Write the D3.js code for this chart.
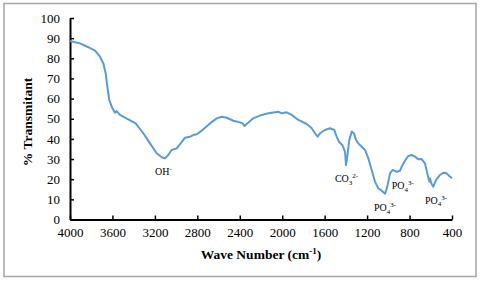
<!DOCTYPE html>
<html>
<head>
<meta charset="utf-8">
<script src="https://cdn.jsdelivr.net/npm/d3@7/dist/d3.min.js"></script>
<style>
  html, body { margin: 0; padding: 0; background: #fff; }
  svg { display: block; }
  text { font-family: "Liberation Serif", "Times New Roman", serif; fill: #000; }
</style>
</head>
<body>
<svg id="chart" width="480" height="281"></svg>
<script>
// ---- data ----
const waveNumbers = [4000, 3906, 3828, 3764, 3717, 3686, 3664, 3648, 3630, 3607, 3576, 3560, 3529, 3451, 3381, 3309, 3246, 3183, 3136, 3105, 3074, 3042, 2994, 2957, 2916, 2869, 2838, 2806, 2759, 2681, 2617, 2570, 2523, 2461, 2398, 2372, 2357, 2329, 2273, 2193, 2131, 2037, 2005, 1958, 1911, 1848, 1769, 1722, 1691, 1666, 1644, 1597, 1550, 1509, 1487, 1465, 1434, 1408, 1399, 1387, 1368, 1345, 1324, 1305, 1283, 1251, 1220, 1189, 1157, 1126, 1095, 1063, 1031, 1010, 984, 959, 921, 890, 874, 843, 812, 780, 749, 718, 686, 655, 633, 614, 607, 595, 576, 551, 513, 482, 450, 426, 400];
const transmittance = [88.6, 87.4, 85.5, 83.8, 80.8, 77.5, 72.6, 65.9, 59.3, 56.0, 53.0, 53.8, 51.9, 49.7, 47.7, 42.8, 37.8, 32.9, 30.9, 30.4, 32.0, 34.5, 35.3, 37.8, 40.6, 41.1, 41.9, 42.3, 44.1, 47.7, 50.2, 51.0, 50.5, 49.0, 48.2, 47.7, 46.4, 47.7, 50.2, 51.9, 52.7, 53.5, 52.7, 53.2, 51.9, 49.4, 47.4, 45.3, 42.8, 41.1, 42.8, 44.4, 45.3, 44.4, 41.1, 38.6, 37.0, 33.6, 27.0, 31.2, 39.5, 43.6, 42.8, 39.5, 37.8, 36.1, 34.5, 30.4, 24.6, 18.8, 15.5, 14.3, 12.8, 16.3, 22.9, 24.6, 23.7, 24.2, 26.2, 29.2, 31.5, 32.0, 31.2, 29.9, 30.0, 27.9, 22.9, 18.8, 20.4, 18.0, 16.3, 19.6, 22.1, 23.2, 22.9, 21.6, 20.5];
const xTicks = [4000, 3600, 3200, 2800, 2400, 2000, 1600, 1200, 800, 400];
const yTicks = [0, 10, 20, 30, 40, 50, 60, 70, 80, 90, 100];
// annotation labels: [main, subscript, superscript] anchored at (wave number, % T)
const annoText = [["OH", "", "-"], ["CO", "3", "2-"], ["PO", "4", "3-"], ["PO", "4", "3-"], ["PO", "4", "3-"]];
const annoWave = [3199, 1503, 1135, 968, 654];
const annoT = [22.1, 18.6, 4.2, 15.1, 7.7];

// ---- layout ----
const FONT = "'Liberation Serif', 'Times New Roman', serif";
const svg = d3.select("#chart");
const x = d3.scaleLinear().domain([4000, 400]).range([70, 452]);
const y = d3.scaleLinear().domain([0, 100]).range([219.5, 18]);

// outer frame
svg.append("rect")
  .attr("x", 4).attr("y", 3.5).attr("width", 472).attr("height", 273)
  .attr("fill", "none").attr("stroke", "#a6a6a6").attr("stroke-width", 1.5);

// axes
const xAxis = d3.axisBottom(x).tickValues(xTicks).tickSizeInner(-4).tickSizeOuter(0).tickPadding(8).tickFormat(d3.format("d"));
const yAxis = d3.axisLeft(y).tickValues(yTicks).tickSizeInner(-4).tickSizeOuter(0).tickPadding(10).tickFormat(d3.format("d"));

const gx = svg.append("g").attr("transform", `translate(0,${y(0)})`).call(xAxis);
const gy = svg.append("g").attr("transform", `translate(${x(4000)},0)`).call(yAxis);
[gx, gy].forEach(g => {
  g.attr("font-family", FONT);
  g.select(".domain").attr("stroke", "#000").attr("stroke-width", 2);
  g.selectAll(".tick line").attr("stroke", "#000").attr("stroke-width", 1.5);
  g.selectAll(".tick text").attr("font-family", FONT).attr("font-size", 13).attr("fill", "#000");
});

// line
const pts = waveNumbers.map((w, i) => [w, transmittance[i]]);
svg.append("path")
  .datum(pts)
  .attr("fill", "none")
  .attr("stroke", "#5b9bd5")
  .attr("stroke-width", 2)
  .attr("stroke-linejoin", "round")
  .attr("d", d3.line().x(d => x(d[0])).y(d => y(d[1])));

// annotations
annoText.forEach((parts, i) => {
  const t = svg.append("text")
    .attr("x", x(annoWave[i])).attr("y", y(annoT[i]))
    .attr("font-family", FONT)
    .attr("font-size", 10);
  t.append("tspan").text(parts[0]);
  let shift = 0;
  if (parts[1]) {
    t.append("tspan").attr("font-size", 7).attr("dy", 2.5).text(parts[1]);
    shift = 2.5;
  }
  if (parts[2]) {
    t.append("tspan").attr("font-size", 7).attr("dy", -shift - 4).text(parts[2]);
  }
});

// axis titles
const xt = svg.append("text")
  .attr("x", 261).attr("y", 259)
  .attr("text-anchor", "middle")
  .attr("font-family", FONT)
  .attr("font-weight", "bold").attr("font-size", 13.5);
xt.append("tspan").text("Wave Number (cm");
xt.append("tspan").attr("font-size", 9).attr("dy", -5).text("-1");
xt.append("tspan").attr("dy", 5).text(")");

svg.append("text")
  .attr("transform", "translate(32,122) rotate(-90)")
  .attr("text-anchor", "middle")
  .attr("font-family", FONT)
  .attr("font-weight", "bold").attr("font-size", 13.5)
  .text("% Transmitant");
</script>
</body>
</html>
